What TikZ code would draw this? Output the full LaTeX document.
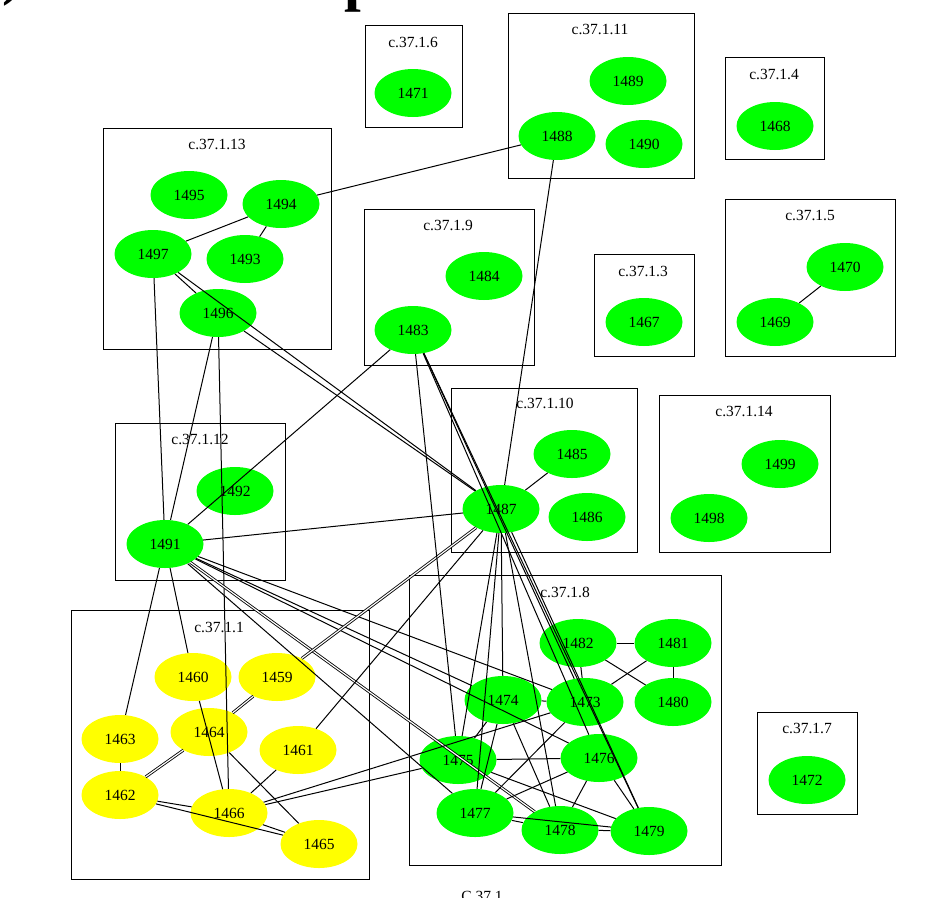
\documentclass[tikz,border=0pt]{standalone}
\usepackage{fontspec}
\setmainfont{Liberation Serif}
\usepackage{tikz}
\usetikzlibrary{shapes.geometric}
\definecolor{grn}{HTML}{00FF00}
\definecolor{ylw}{HTML}{FFFF00}

\begin{document}
\begin{tikzpicture}[
  x=1pt,y=-1pt,
  vtx/.style={ellipse,inner sep=0pt,minimum width=77pt,minimum height=48pt,font=\fontsize{15.5}{18}\selectfont},
  gn/.style={vtx,fill=grn},
  yn/.style={vtx,fill=ylw},
  clus/.style={draw,line width=1pt},
  clab/.style={font=\fontsize{15.5}{18}\selectfont,inner sep=0pt},
  big/.style={font=\fontsize{60}{60}\selectfont\bfseries,inner sep=0pt,anchor=base west},
  ed/.style={draw,line width=1pt},
  dbl/.style={draw,line width=0.85pt,double,double distance=1.2pt},
]
\useasboundingbox (0,0) rectangle (933,897);
\clip (0,0) rectangle (933,897);

\node[big] (ttla) at (2,-7) {)};
\node[big] (ttlb) at (344,-1) {p};
\node[clab,anchor=base] (outer) at (482,901) {C.37.1};

\draw[clus] (365,25) rectangle (462,127);
\draw[clus] (508,13) rectangle (694,178);
\draw[clus] (725,57) rectangle (824,159);
\draw[clus] (103,128) rectangle (331,349);
\draw[clus] (364,209) rectangle (534,365);
\draw[clus] (594,254) rectangle (694,356);
\draw[clus] (725,199) rectangle (895,356);
\draw[clus] (115,423) rectangle (285,580);
\draw[clus] (451,388) rectangle (637,552);
\draw[clus] (659,395) rectangle (830,552);
\draw[clus] (71,610) rectangle (369,879);
\draw[clus] (409,575) rectangle (721,865);
\draw[clus] (757,712) rectangle (857,814);

\node[clab] (l6) at (413,42) {c.37.1.6};
\node[clab] (l11) at (600,29) {c.37.1.11};
\node[clab] (l4) at (774,74) {c.37.1.4};
\node[clab] (l13) at (217,144) {c.37.1.13};
\node[clab] (l9) at (448,225) {c.37.1.9};
\node[clab] (l3) at (643,271) {c.37.1.3};
\node[clab] (l5) at (810,215) {c.37.1.5};
\node[clab] (l12) at (200,439) {c.37.1.12};
\node[clab] (l10) at (545,403) {c.37.1.10};
\node[clab] (l14) at (744,411) {c.37.1.14};
\node[clab] (l1) at (219,627) {c.37.1.1};
\node[clab] (l8) at (565,592) {c.37.1.8};
\node[clab] (l7) at (807,728) {c.37.1.7};

\node[gn] (n1471) at (413,93) {1471};
\node[gn] (n1489) at (628,81) {1489};
\node[gn] (n1488) at (557,136) {1488};
\node[gn] (n1490) at (644,144) {1490};
\node[gn] (n1468) at (775,126) {1468};
\node[gn] (n1495) at (189,195) {1495};
\node[gn] (n1494) at (281,204) {1494};
\node[gn] (n1497) at (153,254) {1497};
\node[gn] (n1493) at (245,259) {1493};
\node[gn] (n1496) at (218,313) {1496};
\node[gn] (n1484) at (484,276) {1484};
\node[gn] (n1483) at (413,330) {1483};
\node[gn] (n1467) at (644,322) {1467};
\node[gn] (n1470) at (845,267) {1470};
\node[gn] (n1469) at (775,322) {1469};
\node[gn] (n1492) at (235,491) {1492};
\node[gn] (n1491) at (165,544) {1491};
\node[gn] (n1485) at (572,454) {1485};
\node[gn] (n1487) at (501,509) {1487};
\node[gn] (n1486) at (587,517) {1486};
\node[gn] (n1499) at (780,464) {1499};
\node[gn] (n1498) at (709,518) {1498};
\node[yn] (n1460) at (193,677) {1460};
\node[yn] (n1459) at (277,677) {1459};
\node[yn] (n1463) at (120,739) {1463};
\node[yn] (n1464) at (209,732) {1464};
\node[yn] (n1461) at (298,750) {1461};
\node[yn] (n1462) at (120,795) {1462};
\node[yn] (n1466) at (229,813) {1466};
\node[yn] (n1465) at (319,844) {1465};
\node[gn] (n1482) at (578,643) {1482};
\node[gn] (n1481) at (673,643) {1481};
\node[gn] (n1474) at (503,700) {1474};
\node[gn] (n1473) at (585,702) {1473};
\node[gn] (n1480) at (673,702) {1480};
\node[gn] (n1475) at (458,760) {1475};
\node[gn] (n1476) at (599,758) {1476};
\node[gn] (n1477) at (475,813) {1477};
\node[gn] (n1478) at (560,830) {1478};
\node[gn] (n1479) at (649,831) {1479};
\node[gn] (n1472) at (807,780) {1472};

\draw[ed] (n1494) -- (n1488);
\draw[ed] (n1497) -- (n1494);
\draw[ed] (n1494) -- (n1493);
\draw[ed] (n1497) -- (n1496);
\draw[ed] (n1497) -- (n1487);
\draw[ed] (n1496) -- (n1487);
\draw[ed] (n1497) -- (n1491);
\draw[ed] (n1496) -- (n1491);
\draw[ed] (n1496) -- (n1466);
\draw[ed] (n1488) -- (n1487);
\draw[ed] (n1485) -- (n1487);
\draw[ed] (n1470) -- (n1469);
\draw[ed] (n1491) -- (n1483);
\draw[ed] (n1491) -- (n1487);
\draw[ed] (n1491) -- (n1463);
\draw[ed] (n1463) -- (n1462);
\draw[ed] (n1491) -- (n1460);
\draw[ed] (n1491) -- (n1473);
\draw[ed] (n1491) -- (n1474);
\draw[ed] (n1491) -- (n1476);
\draw[dbl] (n1491) -- (n1478);
\draw[ed] (n1491) -- (n1477);
\draw[dbl] (n1487) -- (n1459);
\draw[dbl] (n1459) -- (n1464);
\draw[dbl] (n1464) -- (n1462);
\draw[ed] (n1487) -- (n1461);
\draw[ed] (n1483) -- (n1475);
\draw[ed] (n1483) -- (n1473);
\draw[ed] (n1483) -- (n1476);
\draw[ed] (n1483) -- (n1479);
\draw[ed] (n1487) -- (n1475);
\draw[ed] (n1487) -- (n1477);
\draw[ed] (n1487) -- (n1474);
\draw[ed] (n1487) -- (n1478);
\draw[ed] (n1487) -- (n1479);
\draw[ed] (n1460) -- (n1466);
\draw[ed] (n1461) -- (n1466);
\draw[ed] (n1464) -- (n1465);
\draw[ed] (n1462) -- (n1465);
\draw[ed] (n1462) -- (n1466);
\draw[ed] (n1466) -- (n1465);
\draw[ed] (n1466) -- (n1475);
\draw[ed] (n1466) -- (n1473);
\draw[ed] (n1482) -- (n1481);
\draw[ed] (n1481) -- (n1480);
\draw[ed] (n1482) -- (n1480);
\draw[ed] (n1473) -- (n1481);
\draw[ed] (n1482) -- (n1473);
\draw[ed] (n1474) -- (n1473);
\draw[ed] (n1475) -- (n1476);
\draw[ed] (n1477) -- (n1478);
\draw[ed] (n1477) -- (n1479);
\draw[ed] (n1478) -- (n1479);
\draw[ed] (n1475) -- (n1479);
\draw[ed] (n1474) -- (n1478);
\draw[ed] (n1476) -- (n1478);
\draw[ed] (n1476) -- (n1479);
\draw[ed] (n1477) -- (n1473);
\draw[ed] (n1477) -- (n1476);
\draw[ed] (n1475) -- (n1474);
\draw[ed] (n1477) -- (n1474);
\end{tikzpicture}
\end{document}
